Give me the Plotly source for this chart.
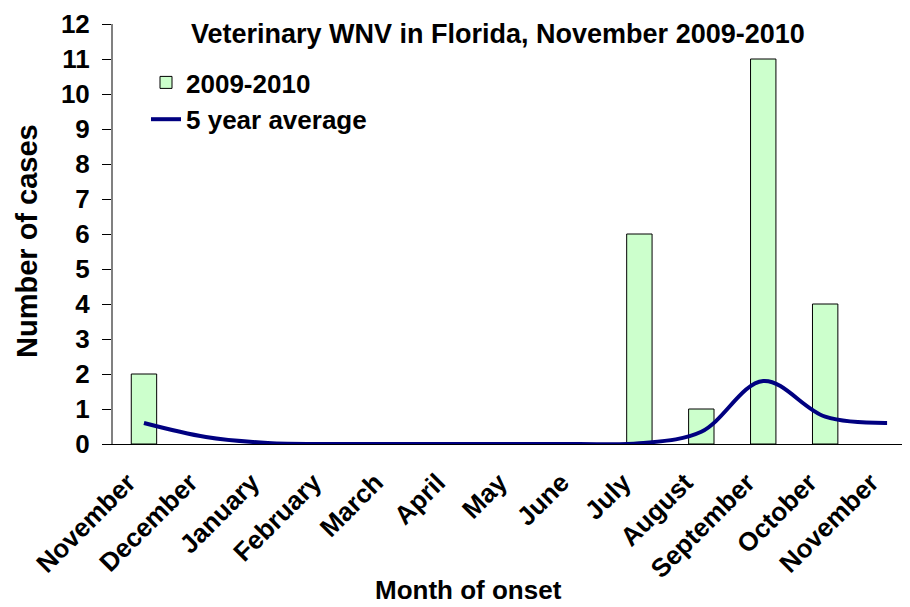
import plotly.graph_objects as go

months = ["November", "December", "January", "February", "March", "April", "May",
          "June", "July", "August", "September", "October", "November"]
cases_2009_2010 = [2, 0, 0, 0, 0, 0, 0, 0, 6, 1, 11, 4, 0]
five_year_avg = [0.6, 0.2, 0.03, 0, 0, 0, 0, 0, 0.02, 0.35, 1.8, 0.78, 0.6]
y_ticks = list(range(0, 13))

xpos = list(range(len(months)))
boundaries = [i - 0.5 for i in xpos]
xr = [-0.5, 12.37]
yr = [0, 12]

FONT = "Liberation Sans, Arial, sans-serif"
OFF = 8  # page body margin
W, H = 910 - OFF, 607 - OFF
L, T = 113 - OFF, 24 - OFF
PW, PH = 797, 420
B = H - T - PH


def px_x(x):
    return (x - OFF - L) / PW


def px_y(y):
    return (T + PH - (y - OFF)) / PH


fig = go.Figure()
fig.add_trace(go.Bar(
    x=xpos, y=cases_2009_2010, name="<b>2009-2010</b>", width=0.41,
    marker=dict(color="#CCFFCC",
                line=dict(color="black", width=[1 if v > 0 else 0 for v in cases_2009_2010])),
))
fig.add_trace(go.Scatter(
    x=xpos, y=five_year_avg, name="<b>5 year average</b>", mode="lines",
    line=dict(color="#000080", width=4, shape="spline", smoothing=1.0),
))

fig.update_layout(
    width=W, height=H,
    margin=dict(l=L, r=0, t=T, b=B),
    paper_bgcolor="white", plot_bgcolor="white",
    font=dict(family=FONT, color="black"),
    showlegend=True,
    legend=dict(x=px_x(146), y=px_y(59), xanchor="left", yanchor="top",
                font=dict(size=26, family=FONT, color="black"),
                bgcolor="rgba(0,0,0,0)", itemwidth=30, tracegroupgap=0),
    annotations=[
        dict(text="<b>Veterinary WNV in Florida, November 2009-2010</b>",
             x=px_x(498), y=px_y(34), xref="paper", yref="paper", showarrow=False,
             xanchor="center", yanchor="middle",
             font=dict(size=27, family=FONT, color="black")),
        dict(text="<b>Month of onset</b>",
             x=px_x(468), y=px_y(590), xref="paper", yref="paper", showarrow=False,
             xanchor="center", yanchor="middle",
             font=dict(size=26, family=FONT, color="black")),
        dict(text="<b>Number of cases</b>", textangle=-90,
             x=px_x(27), y=px_y(241), xref="paper", yref="paper", showarrow=False,
             xanchor="center", yanchor="middle",
             font=dict(size=29, family=FONT, color="black")),
    ],
    xaxis=dict(
        range=xr, tickmode="array", tickvals=xpos,
        ticktext=["<b>%s</b>" % m for m in months],
        tickangle=-45, ticks="", showgrid=False, zeroline=False, automargin=False,
        showline=True, linecolor="black", linewidth=1,
        ticklabelshift=-16, ticklabelstandoff=12,
        tickfont=dict(size=26, family=FONT, color="black"),
    ),
    xaxis2=dict(
        range=xr, overlaying="x", anchor="y", side="bottom", automargin=False,
        tickmode="array", tickvals=boundaries, ticks="outside", ticklen=9,
        tickcolor="black", showticklabels=False, showgrid=False, zeroline=False, showline=False,
    ),
    xaxis3=dict(
        range=xr, overlaying="x", anchor="y", side="bottom", automargin=False,
        tickmode="array", tickvals=boundaries, ticks="inside", ticklen=9,
        tickcolor="black", showticklabels=False, showgrid=False, zeroline=False, showline=False,
    ),
    yaxis=dict(
        range=yr, tickmode="array", tickvals=y_ticks,
        ticktext=["<b>%d</b>" % v for v in y_ticks],
        ticks="outside", ticklen=9, tickcolor="black", showgrid=False, zeroline=False,
        showline=True, linecolor="#808080", linewidth=2, automargin=False,
        ticklabelstandoff=7,
        tickfont=dict(size=26, family=FONT, color="black"),
    ),
    yaxis2=dict(
        range=yr, overlaying="y", anchor="x", side="left", automargin=False,
        tickmode="array", tickvals=y_ticks, ticks="inside", ticklen=9,
        tickcolor="black", showticklabels=False, showgrid=False, zeroline=False, showline=False,
    ),
)

fig.write_html("out.html")
